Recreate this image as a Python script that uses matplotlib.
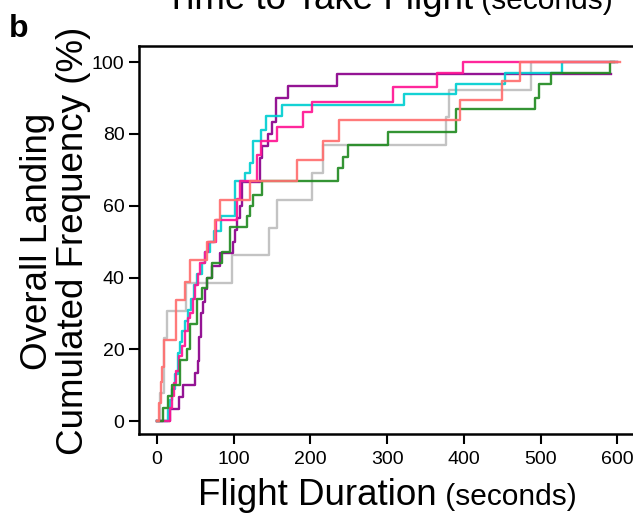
import matplotlib
matplotlib.use('Agg')
import matplotlib.pyplot as plt

plt.rcParams['font.family'] = ['Liberation Sans', 'DejaVu Sans']

# flight duration (s) where each group's cumulated landing frequency steps up,
# and the cumulated frequency (%) reached at that step
purple_t = [17, 29, 34, 50, 53, 55, 57, 60, 63, 65, 72, 82, 99, 101, 104, 108, 111, 134, 137, 145, 150, 155, 171, 235]
purple_p = [3.3, 6.7, 10, 13.3, 16.7, 23.3, 30, 33.3, 36.7, 40, 43.3, 46.7, 50, 53.3, 56.7, 60, 66.7, 73.3, 76.7, 80, 83.3, 90, 93.3, 96.7]

cyan_t = [14, 17, 20, 23, 27, 30, 33, 36, 40, 44, 48, 52, 58, 63, 69, 74, 84, 102, 115, 121, 125, 136, 142, 163, 322, 390, 454, 528]
cyan_p = [3, 6, 9, 13, 19, 22, 25, 28, 31, 34, 38, 41, 44, 47, 50, 53, 57, 67, 69, 72, 78, 81, 85, 88, 91, 94, 97, 100]

pink_t = [17, 19, 22, 25, 28, 32, 36, 40, 43, 47, 50, 53, 56, 62, 66, 77, 104, 108, 130, 136, 157, 190, 202, 308, 365, 399]
pink_p = [3.6, 7, 10.7, 14, 18, 21, 25, 28.6, 30, 34, 38, 41, 44, 47, 50, 56, 62, 67, 74, 78, 82, 86, 89, 93, 97, 100]

salmon_t = [2, 5, 7, 9, 25, 36, 43, 65, 75, 82, 121, 182, 216, 237, 395, 449, 473]
salmon_p = [5, 11, 15, 22.5, 33.7, 38.7, 45, 50, 56, 61.5, 67, 72.7, 78, 84, 89.4, 94.7, 100]

green_t = [8, 14, 20, 30, 39, 43, 52, 59, 65, 72, 85, 95, 117, 121, 125, 137, 236, 243, 249, 301, 390, 493, 498, 513, 591]
green_p = [3.6, 7, 10, 17, 20, 27, 34, 37, 40, 44, 47, 54, 57, 60, 63, 67, 70.5, 73.6, 77, 80.5, 87, 90, 94, 97, 100]

grey_t = [4, 9, 13, 38, 98, 146, 157, 202, 216, 377, 380, 488]
grey_p = [7.7, 23.1, 30.8, 38.5, 46.2, 53.8, 61.5, 69.2, 76.9, 84.6, 92.3, 100]

# last observed time for each group
end_t = {'purple': 592, 'cyan': 600, 'pink': 600, 'salmon': 603, 'green': 596, 'grey': 600}

series = [
    ('grey', grey_t, grey_p, '#BEBEBE'),
    ('purple', purple_t, purple_p, '#8B008B'),
    ('cyan', cyan_t, cyan_p, '#00CED1'),
    ('pink', pink_t, pink_p, '#FF1493'),
    ('green', green_t, green_p, '#228B22'),
    ('salmon', salmon_t, salmon_p, '#FF6F6F'),
]

W, H = 633, 515
fig = plt.figure(figsize=(W / 100, H / 100), dpi=100)
ax = fig.add_axes([139 / W, 81 / H, 506 / W, 388 / H])

for name, t, p, col in series:
    xs = [0] + t + [end_t[name]]
    ys = [0] + p + [p[-1]]
    ax.step(xs, ys, where='post', color=col, lw=1.7, alpha=0.92)

ax.set_xlim(-23.5, 636)
ax.set_ylim(-3.6, 104.5)
ax.set_xticks([0, 100, 200, 300, 400, 500, 600])
ax.set_yticks([0, 20, 40, 60, 80, 100])
ax.tick_params(length=7, width=1.5, labelsize=14, direction='out')
ax.tick_params(axis='x', pad=5)
ax.tick_params(axis='y', pad=3.5)
for s in ax.spines.values():
    s.set_linewidth(1.8)

fig.canvas.draw()
r = fig.canvas.get_renderer()


def two_part(x, y, big, small, fs_big, fs_small):
    t1 = fig.text(x, y, big, fontsize=fs_big, ha='left', va='baseline')
    bb = t1.get_window_extent(r)
    fig.text(bb.x1 / W, y, ' ' + small, fontsize=fs_small, ha='left', va='baseline')


# x label and the cut-off label of the panel above
two_part(198 / W, 10 / H, 'Flight Duration', '(seconds)', 26.5, 21.5)
two_part(165 / W, 1 - 9 / H, 'Time to Take Flight', '(seconds)', 26.5, 21.5)

# y label, two lines
fig.text(47 / W, 1 - 241 / H, 'Overall Landing', fontsize=26.5, rotation=90,
         rotation_mode='anchor', ha='center', va='baseline')
fig.text(83 / W, 1 - 241 / H, 'Cumulated Frequency (%)', fontsize=26.5, rotation=90,
         rotation_mode='anchor', ha='center', va='baseline')

fig.text(9 / W, 1 - 37 / H, 'b', fontsize=23, fontweight='bold', ha='left', va='baseline')

fig.savefig('out.png', dpi=100)
